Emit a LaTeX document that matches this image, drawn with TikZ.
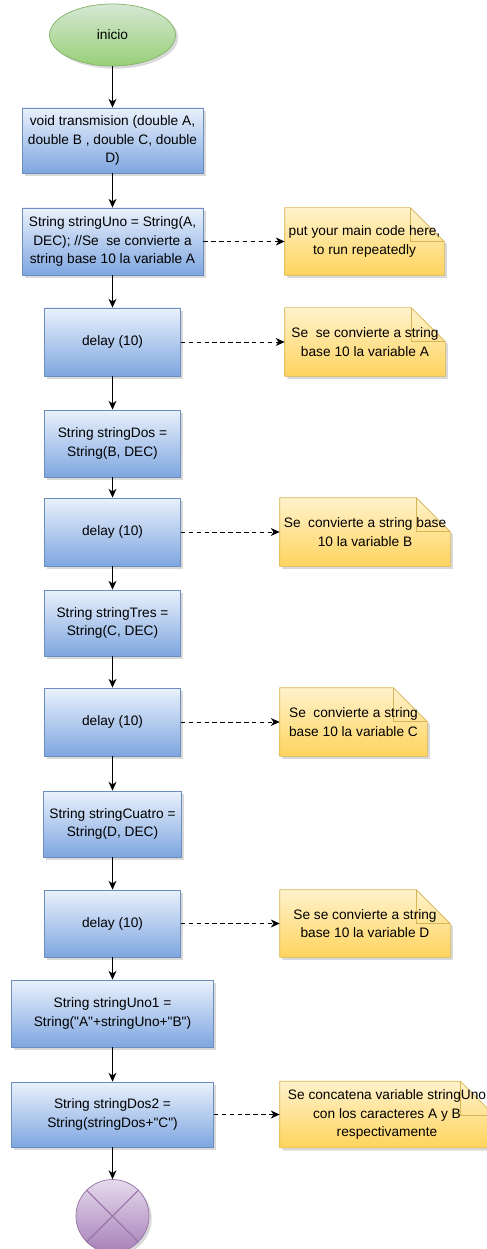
\documentclass[tikz,border=0pt]{standalone}
\usepackage{fontspec}
\setmainfont{Liberation Sans}
\usepackage{tikz}
\usetikzlibrary{shapes.geometric, shadows, backgrounds, calc, arrows.meta}

\definecolor{boxtop}{HTML}{EAF1FC}
\definecolor{boxbot}{HTML}{7EA6E0}
\definecolor{boxline}{HTML}{6C8EBF}
\definecolor{notetop}{HTML}{FFF2CC}
\definecolor{notebot}{HTML}{FFD45E}
\definecolor{noteline}{HTML}{D6B656}
\definecolor{starttop}{HTML}{D5E8D4}
\definecolor{startbot}{HTML}{97D077}
\definecolor{startline}{HTML}{82B366}
\definecolor{endtop}{HTML}{E6DAEC}
\definecolor{endbot}{HTML}{A680B8}
\definecolor{endline}{HTML}{9673A6}

\begin{document}
\begin{tikzpicture}[
    font=\fontsize{7.8}{10.5}\selectfont,
    shade/.style={drop shadow={shadow xshift=1.5pt, shadow yshift=-1.5pt, opacity=0.25, fill=black!60}},
    box/.style={rectangle, draw=boxline, top color=boxtop, bottom color=boxbot, minimum width=2.72cm, minimum height=1.36cm, align=center, shade},
    widebox/.style={box, minimum width=3.62cm, minimum height=1.32cm},
    longbox/.style={box, minimum width=4.04cm, minimum height=1.32cm},
    note/.style={rectangle, minimum width=3.2cm, minimum height=1.36cm, align=center, inner sep=1pt},
    notepaper/.style={draw=noteline, top color=notetop, bottom color=notebot, shade},
    start/.style={ellipse, draw=startline, top color=starttop, bottom color=startbot, minimum width=2.52cm, minimum height=1.24cm, shade},
    stop/.style={circle, draw=endline, top color=endtop, bottom color=endbot, minimum size=1.46cm, shade},
    arrow/.style={-{Stealth[length=5pt, width=4.5pt, inset=1.5pt]}, line width=0.6pt},
    dashed_arrow/.style={arrow, line width=0.5pt, dash pattern=on 2.5pt off 2pt}
  ]

    \useasboundingbox (0,0) rectangle (9.72,-24.98);

    % Start
    \node[start] (inicio) at (2.25,-0.70) {inicio};

    % Function header and first conversion
    \node[widebox, minimum height=1.30cm] (transmision) at (2.25,-2.81) {void transmision (double A,\\double B , double C, double\\D)};
    \node[widebox, minimum height=1.34cm] (stringUno) at (2.25,-4.83) {String stringUno = String(A,\\DEC); //Se\ \ se convierte a\\string base 10 la variable A};

    % Conversions and delays
    \node[box] (delayA) at (2.25,-6.84) {delay (10)};
    \node[box, minimum height=1.34cm] (stringDos) at (2.25,-8.87) {String stringDos =\\String(B, DEC)};
    \node[box] (delayB) at (2.25,-10.64) {delay (10)};
    \node[box, minimum height=1.32cm] (stringTres) at (2.25,-12.46) {String stringTres =\\String(C, DEC)};
    \node[box] (delayC) at (2.25,-14.44) {delay (10)};
    \node[box, minimum height=1.32cm] (stringCuatro) at (2.25,-16.48) {String stringCuatro =\\String(D, DEC)};
    \node[box, minimum height=1.34cm] (delayD) at (2.25,-18.47) {delay (10)};

    % Concatenation
    \node[longbox, minimum height=1.34cm] (stringUnoUno) at (2.25,-20.27) {String stringUno1 =\\String(\textquotedbl A\textquotedbl+stringUno+\textquotedbl B\textquotedbl)};
    \node[longbox, minimum height=1.30cm] (stringDosDos) at (2.25,-22.29) {String stringDos2 =\\String(stringDos+\textquotedbl C\textquotedbl)};

    % End
    \node[stop] (fin) at (2.25,-24.32) {};
    \draw[endline, line width=0.6pt] (fin.north west) -- (fin.south east);
    \draw[endline, line width=0.6pt] (fin.north east) -- (fin.south west);

    % Comments
    \node[note, minimum width=3.18cm, minimum height=1.34cm] (note1) at (7.29,-4.83) {put your main code here,\\to run repeatedly};
    \node[note] (note2) at (7.30,-6.84) {Se\ \ se convierte a string\\base 10 la variable A};
    \node[note, minimum width=3.4cm] (note3) at (7.30,-10.64) {Se\ \ convierte a string base\\10 la variable B};
    \node[note, minimum width=2.94cm] (note4) at (7.07,-14.44) {Se\ \ convierte a string\\base 10 la variable C};
    \node[note, minimum width=3.4cm, minimum height=1.34cm] (note5) at (7.30,-18.47) {Se se convierte a string\\base 10 la variable D};
    \node[note, minimum width=4.28cm, minimum height=1.32cm] (note6) at (7.74,-22.29) {Se concatena variable stringUno\\con los caracteres A y B\\respectivamente};

    % Folded paper behind the comments
    \begin{scope}[on background layer]
      \foreach \n in {note1, note2, note3, note4, note5, note6} {
        \path[notepaper] (\n.north west) -- ($(\n.north east)+(-0.68,0)$) -- ($(\n.north east)+(0,-0.68)$) -- (\n.south east) -- (\n.south west) -- cycle;
        \draw[noteline] ($(\n.north east)+(-0.68,0)$) -- ($(\n.north east)+(-0.68,-0.68)$) -- ($(\n.north east)+(0,-0.68)$);
      }
    \end{scope}

    % Arrows - main flow
    \draw[arrow] (inicio) -- (transmision);
    \draw[arrow] (transmision) -- (stringUno);
    \draw[arrow] (stringUno) -- (delayA);
    \draw[arrow] (delayA) -- (stringDos);
    \draw[arrow] (stringDos) -- (delayB);
    \draw[arrow] (delayB) -- (stringTres);
    \draw[arrow] (stringTres) -- (delayC);
    \draw[arrow] (delayC) -- (stringCuatro);
    \draw[arrow] (stringCuatro) -- (delayD);
    \draw[arrow] (delayD) -- (stringUnoUno);
    \draw[arrow] (stringUnoUno) -- (stringDosDos);
    \draw[arrow] (stringDosDos) -- (fin);

    % Arrows - comments
    \draw[dashed_arrow] (stringUno) -- (note1);
    \draw[dashed_arrow] (delayA) -- (note2);
    \draw[dashed_arrow] (delayB) -- (note3);
    \draw[dashed_arrow] (delayC) -- (note4);
    \draw[dashed_arrow] (delayD) -- (note5);
    \draw[dashed_arrow] (stringDosDos) -- (note6);

  \end{tikzpicture}
\end{document}
